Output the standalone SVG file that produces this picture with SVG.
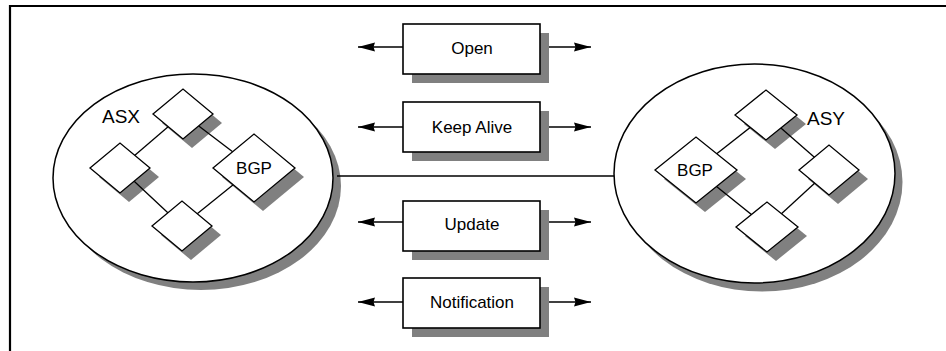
<svg xmlns="http://www.w3.org/2000/svg" width="946" height="351" viewBox="0 0 946 351">
<defs>
<style>
text{font-family:"Liberation Sans",Arial,sans-serif;fill:#000}
.sh{fill:#808080;stroke:none}
.sh2{fill:#808080;stroke:none}
.nd{fill:#fff;stroke:#000;stroke-width:1.3}
.el{fill:#fff;stroke:#000;stroke-width:1.5}
.bx{fill:#fff;stroke:#000;stroke-width:1.6}
.ln{stroke:#000;stroke-width:1.3;fill:none}
.ar{stroke:#000;stroke-width:1.4;fill:none;marker-end:url(#ah)}
.lbl{font-size:17px;text-anchor:middle}
.as{font-size:19px}
</style>
<marker id="ah" markerUnits="userSpaceOnUse" markerWidth="18" markerHeight="10" refX="17" refY="5" orient="auto">
<path d="M0,0.5 L17,5 L0,9.5 L1.5,5 z" fill="#000"/>
</marker>
</defs>
<rect width="946" height="351" fill="#fff"/>
<path d="M10,351 V6 H946" fill="none" stroke="#000" stroke-width="2.2"/>

<g id="asx">
<ellipse class="sh" cx="201" cy="186" rx="140" ry="104"/>
<ellipse class="el" cx="193" cy="178" rx="140" ry="104"/>
<text class="as" x="102" y="123">ASX</text>
</g>
<g id="asy">
<ellipse class="sh" cx="762" cy="182" rx="140.5" ry="109.5"/>
<ellipse class="el" cx="754.5" cy="173.5" rx="140.5" ry="109.5"/>
<text class="as" x="807" y="125">ASY</text>
</g>

<g id="shadows">
<polygon class="sh2" points="162,123 192,98 222,123 192,148"/>
<polygon class="sh2" points="99,177 129,152 159,177 129,202"/>
<polygon class="sh2" points="222,177 263,143 304,177 263,211"/>
<polygon class="sh2" points="161,235 191,210 221,235 191,260"/>
<polygon class="sh2" points="744,124 775,99 806,124 775,149"/>
<polygon class="sh2" points="664,179 705,146 746,179 705,212"/>
<polygon class="sh2" points="808,179 838,154 868,179 838,204"/>
<polygon class="sh2" points="745,236 776,211 807,236 776,261"/>
</g>

<g id="connectors">
<line class="ln" x1="337" y1="176" x2="614" y2="176"/>
<line class="ln" x1="183" y1="114" x2="120" y2="168"/>
<line class="ln" x1="183" y1="114" x2="254" y2="168"/>
<line class="ln" x1="120" y1="168" x2="182" y2="226"/>
<line class="ln" x1="254" y1="168" x2="182" y2="226"/>
<line class="ln" x1="766" y1="115" x2="696" y2="170"/>
<line class="ln" x1="766" y1="115" x2="829" y2="170"/>
<line class="ln" x1="696" y1="170" x2="767" y2="227"/>
<line class="ln" x1="829" y1="170" x2="767" y2="227"/>
<line class="ar" x1="403" y1="47" x2="358" y2="47"/>
<line class="ar" x1="549" y1="47" x2="591" y2="47"/>
<line class="ar" x1="403" y1="127" x2="358" y2="127"/>
<line class="ar" x1="549" y1="127" x2="591" y2="127"/>
<line class="ar" x1="403" y1="222" x2="358" y2="222"/>
<line class="ar" x1="549" y1="222" x2="591" y2="222"/>
<line class="ar" x1="403" y1="302" x2="358" y2="302"/>
<line class="ar" x1="549" y1="302" x2="591" y2="302"/>
</g>

<g id="asx-top"><polygon class="nd" points="153,114 183,89 213,114 183,139"/></g>
<g id="asx-left"><polygon class="nd" points="90,168 120,143 150,168 120,193"/></g>
<g id="asx-bgp"><polygon class="nd" points="213,168 254,134 295,168 254,202"/><text class="lbl" x="254" y="174">BGP</text></g>
<g id="asx-bottom"><polygon class="nd" points="152,226 182,201 212,226 182,251"/></g>

<g id="asy-top"><polygon class="nd" points="735,115 766,90 797,115 766,140"/></g>
<g id="asy-bgp"><polygon class="nd" points="655,170 696,137 737,170 696,203"/><text class="lbl" x="695" y="176">BGP</text></g>
<g id="asy-right"><polygon class="nd" points="799,170 829,145 859,170 829,195"/></g>
<g id="asy-bottom"><polygon class="nd" points="736,227 767,202 798,227 767,252"/></g>

<g id="msg-open"><rect class="sh" x="412" y="33" width="137" height="50"/><rect class="bx" x="403" y="24" width="137" height="50"/><text class="lbl" x="472" y="54">Open</text></g>
<g id="msg-keepalive"><rect class="sh" x="412" y="111" width="137" height="50"/><rect class="bx" x="403" y="102" width="137" height="50"/><text class="lbl" x="472" y="133">Keep Alive</text></g>
<g id="msg-update"><rect class="sh" x="412" y="210" width="137" height="50"/><rect class="bx" x="403" y="201" width="137" height="50"/><text class="lbl" x="472" y="230">Update</text></g>
<g id="msg-notification"><rect class="sh" x="412" y="287" width="137" height="50"/><rect class="bx" x="403" y="278" width="137" height="50"/><text class="lbl" x="472" y="308">Notification</text></g>
</svg>
